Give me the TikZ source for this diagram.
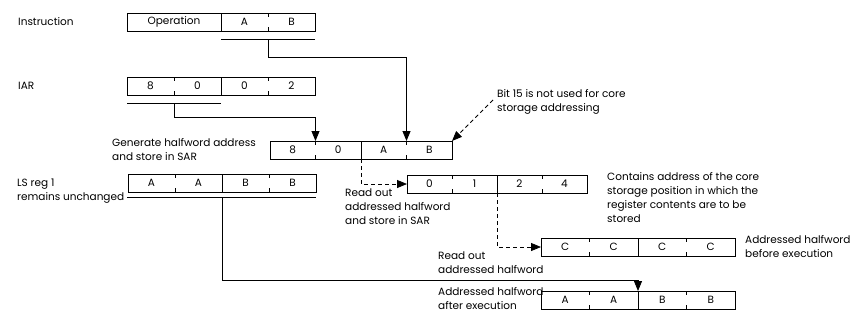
\documentclass[tikz,border=0pt]{standalone}
\usepackage{fontspec}
\setmainfont{Poppins}
\usetikzlibrary{positioning,arrows.meta,calc}
\tikzset{
  cell/.style ={minimum height=18pt, inner sep=0pt, outer sep=0pt, anchor=west,
                font=\fontsize{10.5}{14}\selectfont},
  frame/.style={draw, line width=0.9pt},
  line/.style ={line width=0.8pt},
  lbl/.style  ={align=left, anchor=west, inner sep=0pt,
                font=\fontsize{10.5}{14}\selectfont},
  arr/.style  ={-{Triangle[length=10pt,width=8pt]}, line width=0.8pt},
  darr/.style ={arr, dash pattern=on 4pt off 3pt},
}
\newcommand{\regticks}[1]{\draw[frame] (#1.north east) -- ++(0,4) (#1.south east) -- ++(0,-4);}

\begin{document}
\begin{tikzpicture}[x=1pt, y=-1pt]
  \useasboundingbox (0,0) rectangle (850,333);
  % instruction
  \node[cell, minimum width=94pt] (ins-op) at (127,22) {Operation};
  \node[cell, minimum width=47pt, right=0pt of ins-op] (ins-a) {A};
  \node[cell, minimum width=47pt, right=0pt of ins-a] (ins-b) {B};
  \draw[frame] (ins-op.north west) rectangle (ins-b.south east);
  \draw[frame] (ins-op.north east) -- (ins-op.south east);
  \regticks{ins-a}
  % IAR
  \node[cell, minimum width=47pt] (iar-1) at (127,86) {8};
  \node[cell, minimum width=47pt, right=0pt of iar-1] (iar-2) {0};
  \node[cell, minimum width=47pt, right=0pt of iar-2] (iar-3) {0};
  \node[cell, minimum width=47pt, right=0pt of iar-3] (iar-4) {2};
  \draw[frame] (iar-1.north west) rectangle (iar-4.south east);
  \draw[frame] (iar-2.north east) -- (iar-2.south east);
  \regticks{iar-1} \regticks{iar-3}
  % SAR
  \node[cell, minimum width=45.5pt] (sar-1) at (270,150) {8};
  \node[cell, minimum width=45.5pt, right=0pt of sar-1] (sar-2) {0};
  \node[cell, minimum width=45.5pt, right=0pt of sar-2] (sar-3) {A};
  \node[cell, minimum width=45.5pt, right=0pt of sar-3] (sar-4) {B};
  \draw[frame] (sar-1.north west) rectangle (sar-4.south east);
  \draw[frame] (sar-2.north east) -- (sar-2.south east);
  \regticks{sar-1} \regticks{sar-3}
  % LS reg 1
  \node[cell, minimum width=47pt] (ls-1) at (128,183) {A};
  \node[cell, minimum width=47pt, right=0pt of ls-1] (ls-2) {A};
  \node[cell, minimum width=47pt, right=0pt of ls-2] (ls-3) {B};
  \node[cell, minimum width=47pt, right=0pt of ls-3] (ls-4) {B};
  \draw[frame] (ls-1.north west) rectangle (ls-4.south east);
  \draw[frame] (ls-2.north east) -- (ls-2.south east);
  \regticks{ls-1} \regticks{ls-3}
  % core address 0124
  \node[cell, minimum width=45pt] (adr-1) at (407,184) {0};
  \node[cell, minimum width=45pt, right=0pt of adr-1] (adr-2) {1};
  \node[cell, minimum width=45pt, right=0pt of adr-2] (adr-3) {2};
  \node[cell, minimum width=45pt, right=0pt of adr-3] (adr-4) {4};
  \draw[frame] (adr-1.north west) rectangle (adr-4.south east);
  \draw[frame] (adr-2.north east) -- (adr-2.south east);
  \regticks{adr-1} \regticks{adr-3}
  % halfword before
  \node[cell, minimum width=48.5pt] (hwb-1) at (541,247) {C};
  \node[cell, minimum width=48.5pt, right=0pt of hwb-1] (hwb-2) {C};
  \node[cell, minimum width=48.5pt, right=0pt of hwb-2] (hwb-3) {C};
  \node[cell, minimum width=48.5pt, right=0pt of hwb-3] (hwb-4) {C};
  \draw[frame] (hwb-1.north west) rectangle (hwb-4.south east);
  \draw[frame] (hwb-2.north east) -- (hwb-2.south east);
  \regticks{hwb-1} \regticks{hwb-3}
  % halfword after
  \node[cell, minimum width=48.5pt] (hwa-1) at (541,300) {A};
  \node[cell, minimum width=48.5pt, right=0pt of hwa-1] (hwa-2) {A};
  \node[cell, minimum width=48.5pt, right=0pt of hwa-2] (hwa-3) {B};
  \node[cell, minimum width=48.5pt, right=0pt of hwa-3] (hwa-4) {B};
  \draw[frame] (hwa-1.north west) rectangle (hwa-4.south east);
  \draw[frame] (hwa-2.north east) -- (hwa-2.south east);
  \regticks{hwa-1} \regticks{hwa-3}

  % labels
  \node[lbl] (ins-lbl) at (18,22) {Instruction};
  \node[lbl] (iar-lbl) at (18,86) {IAR};
  \node[lbl] (gen-lbl) at (112,150) {Generate halfword address\\and store in SAR};
  \node[lbl] (ls-lbl) at (17,191) {LS reg 1\\remains unchanged};
  \node[lbl] (bit-lbl) at (497,102) {Bit 15 is not used for core\\storage addressing};
  \node[lbl] (rd1-lbl) at (345,207) {Read out\\addressed halfword\\and store in SAR};
  \node[lbl] (adr-lbl) at (607,198) {Contains address of the core\\storage position in which the\\register contents are to be\\stored};
  \node[lbl] (rd2-lbl) at (438,263) {Read out\\addressed halfword};
  \node[lbl] (hwb-lbl) at (745,247) {Addressed halfword\\before execution};
  \node[lbl] (hwa-lbl) at (438,299) {Addressed halfword\\after execution};

  % connectors
  \draw[line] ($(ins-a.south west)+(0,8)$) -- ($(ins-b.south east)+(0,8)$);
  \draw[arr] ($(ins-a.south east)+(0,8)$) -- ++(0,18) -| (sar-3.north east);
  \draw[line] ($(iar-1.south west)+(0,8)$) -- ($(iar-2.south east)+(0,8)$);
  \draw[arr] ($(iar-1.south east)+(0,8)$) -- ++(0,14) -| (sar-1.north east);
  \draw[line] ($(ls-1.south west)+(-1,5)$) -- ($(ls-4.south east)+(0,5)$);
  \draw[arr] ($(ls-2.south east)+(0,5)$) -- ++(0,83) -| (hwa-2.north east);
  \draw[darr] (sar-2.south east) |- (adr-1.west);
  \draw[darr] (adr-2.south east) |- (hwb-1.west);
  \coordinate (bit-end) at (493,100);
  \draw[darr] (bit-end) -- (sar-4.north east);
\end{tikzpicture}
\end{document}
